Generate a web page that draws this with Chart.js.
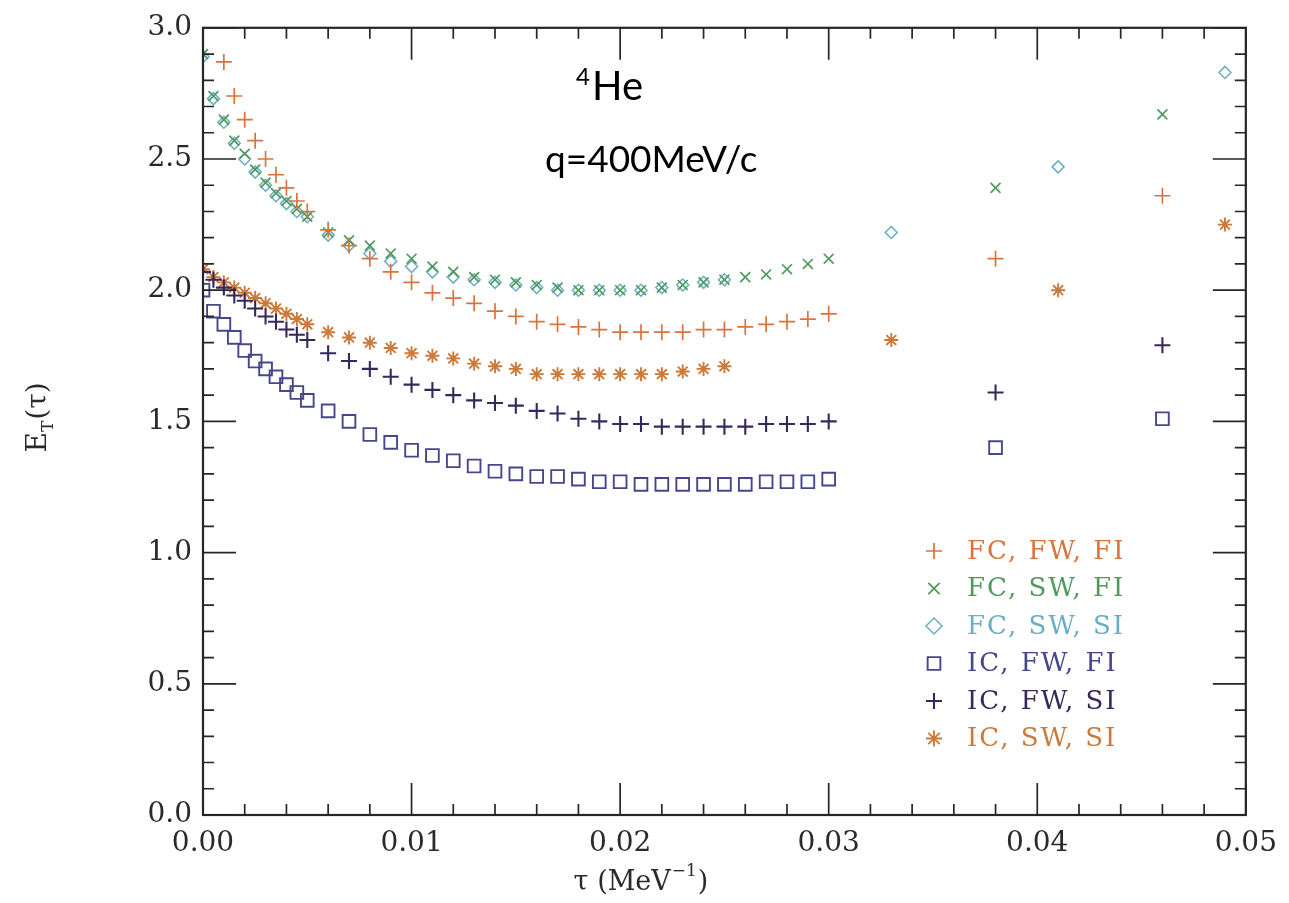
<!DOCTYPE html>
<html>
<head>
<meta charset="utf-8">
<script src="https://cdn.jsdelivr.net/npm/chart.js"></script>
<style>
  html, body { margin: 0; padding: 0; background: #fff; }
  #wrap { width: 1289px; height: 903px; }
</style>
</head>
<body>
<div id="wrap"><canvas id="myChart" width="1289" height="903"></canvas></div>
<script>
// tau grids (MeV^-1)
const tauFull = [0, 0.0005, 0.001, 0.0015, 0.002, 0.0025, 0.003, 0.0035, 0.004, 0.0045, 0.005,
  0.006, 0.007, 0.008, 0.009, 0.010, 0.011, 0.012, 0.013, 0.014, 0.015, 0.016, 0.017, 0.018,
  0.019, 0.020, 0.021, 0.022, 0.023, 0.024, 0.025, 0.026, 0.027, 0.028, 0.029, 0.030, 0.038, 0.046];
const tauFwFi = [0.001, 0.0015, 0.002, 0.0025, 0.003, 0.0035, 0.004, 0.0045, 0.005,
  0.006, 0.007, 0.008, 0.009, 0.010, 0.011, 0.012, 0.013, 0.014, 0.015, 0.016, 0.017, 0.018,
  0.019, 0.020, 0.021, 0.022, 0.023, 0.024, 0.025, 0.026, 0.027, 0.028, 0.029, 0.030, 0.038, 0.046];
const tauSwSi = [0, 0.0005, 0.001, 0.0015, 0.002, 0.0025, 0.003, 0.0035, 0.004, 0.0045, 0.005,
  0.006, 0.007, 0.008, 0.009, 0.010, 0.011, 0.012, 0.013, 0.014, 0.015, 0.016, 0.017, 0.018,
  0.019, 0.020, 0.021, 0.022, 0.023, 0.024, 0.025, 0.033, 0.041, 0.049];

// E_T(tau) per calculation
const fcFwFi = [2.87, 2.74, 2.65, 2.57, 2.50, 2.44, 2.39, 2.34, 2.30,
  2.23, 2.17, 2.12, 2.07, 2.03, 1.99, 1.97, 1.95, 1.92, 1.90, 1.88, 1.87, 1.86, 1.85, 1.84,
  1.84, 1.84, 1.84, 1.85, 1.85, 1.86, 1.87, 1.88, 1.89, 1.91, 2.12, 2.36];
const fcSwFi = [2.90, 2.74, 2.65, 2.57, 2.52, 2.46, 2.41, 2.37, 2.34, 2.31, 2.28,
  2.22, 2.19, 2.17, 2.14, 2.12, 2.09, 2.07, 2.05, 2.04, 2.03, 2.02, 2.01, 2.00, 2.00, 2.00,
  2.00, 2.01, 2.02, 2.03, 2.04, 2.05, 2.06, 2.08, 2.10, 2.12, 2.39, 2.67];
const fcSwSi = [2.89, 2.73, 2.64, 2.56, 2.50, 2.45, 2.40, 2.36, 2.33, 2.30, 2.28,
  2.21, 2.17, 2.14, 2.11, 2.09, 2.07, 2.05, 2.04, 2.03, 2.02, 2.01, 2.00, 2.00, 2.00, 2.00,
  2.00, 2.01, 2.02, 2.03, 2.04, 2.22, 2.47, 2.83];
const icFwFi = [2.00, 1.92, 1.87, 1.82, 1.77, 1.73, 1.70, 1.67, 1.64, 1.61, 1.58,
  1.54, 1.50, 1.45, 1.42, 1.39, 1.37, 1.35, 1.33, 1.31, 1.30, 1.29, 1.29, 1.28, 1.27, 1.27,
  1.26, 1.26, 1.26, 1.26, 1.26, 1.26, 1.27, 1.27, 1.27, 1.28, 1.40, 1.51];
const icFwSi = [2.07, 2.04, 2.01, 1.98, 1.96, 1.93, 1.90, 1.88, 1.85, 1.83, 1.81,
  1.76, 1.73, 1.70, 1.67, 1.64, 1.62, 1.60, 1.58, 1.57, 1.56, 1.54, 1.53, 1.51, 1.50, 1.49,
  1.49, 1.48, 1.48, 1.48, 1.48, 1.48, 1.49, 1.49, 1.49, 1.50, 1.61, 1.79];
const icSwSi = [2.08, 2.05, 2.03, 2.01, 1.99, 1.97, 1.95, 1.93, 1.91, 1.89, 1.87,
  1.84, 1.82, 1.80, 1.78, 1.76, 1.75, 1.74, 1.72, 1.71, 1.70, 1.68, 1.68, 1.68, 1.68, 1.68,
  1.68, 1.68, 1.69, 1.70, 1.71, 1.81, 2.00, 2.25];

const xTicks = [0, 0.01, 0.02, 0.03, 0.04, 0.05];
const yTicks = [0, 0.5, 1.0, 1.5, 2.0, 2.5, 3.0];

const serif = '"DejaVu Serif", "Liberation Serif", serif';

function pts(xs, ys) {
  return xs.map((x, i) => ({ x: x, y: ys[i] }));
}

const series = [
  { label: 'FC, FW, FI', x: tauFwFi, y: fcFwFi, color: '#d8743c', style: 'cross', r: 8, w: 1.7 },
  { label: 'FC, SW, FI', x: tauFull, y: fcSwFi, color: '#4f9a5c', style: 'crossRot', r: 7, w: 1.7 },
  { label: 'FC, SW, SI', x: tauSwSi, y: fcSwSi, color: '#6aaec6', style: 'rectRot', r: 6, w: 1.5 },
  { label: 'IC, FW, FI', x: tauFull, y: icFwFi, color: '#45478a', style: 'rect', r: 9, w: 1.9 },
  { label: 'IC, FW, SI', x: tauFull, y: icFwSi, color: '#37285c', style: 'cross', r: 8, w: 2.1 },
  { label: 'IC, SW, SI', x: tauSwSi, y: icSwSi, color: '#cc7a3a', style: 'star', r: 7, w: 1.9 }
];

// marker shapes used in the in-plot legend
function marker(ctx, style, x, y, r) {
  ctx.beginPath();
  if (style === 'cross') {
    ctx.moveTo(x - r, y); ctx.lineTo(x + r, y);
    ctx.moveTo(x, y - r); ctx.lineTo(x, y + r);
  } else if (style === 'crossRot') {
    const d = r * Math.SQRT1_2;
    ctx.moveTo(x - d, y - d); ctx.lineTo(x + d, y + d);
    ctx.moveTo(x + d, y - d); ctx.lineTo(x - d, y + d);
  } else if (style === 'rectRot') {
    ctx.moveTo(x, y - r); ctx.lineTo(x + r, y); ctx.lineTo(x, y + r); ctx.lineTo(x - r, y); ctx.closePath();
  } else if (style === 'rect') {
    const s = r * Math.SQRT1_2;
    ctx.rect(x - s, y - s, 2 * s, 2 * s);
  } else if (style === 'star') {
    const d = r * Math.SQRT1_2;
    ctx.moveTo(x - r, y); ctx.lineTo(x + r, y);
    ctx.moveTo(x, y - r); ctx.lineTo(x, y + r);
    ctx.moveTo(x - d, y - d); ctx.lineTo(x + d, y + d);
    ctx.moveTo(x + d, y - d); ctx.lineTo(x - d, y + d);
  }
  ctx.stroke();
}

// box frame with inward major/minor ticks on all four sides
const frameTicks = {
  id: 'frameTicks',
  afterDatasetsDraw(chart) {
    const { ctx, chartArea: a, scales } = chart;
    const xs = scales.x, ys = scales.y;
    ctx.save();
    ctx.strokeStyle = '#262626';
    ctx.lineWidth = 2.2;
    ctx.strokeRect(a.left, a.top, a.right - a.left, a.bottom - a.top);
    ctx.lineWidth = 1.7;
    ctx.beginPath();
    for (let i = 0; i <= 25; i++) {
      const px = xs.getPixelForValue(i * 0.002);
      const len = i % 5 === 0 ? 32 : 11;
      ctx.moveTo(px, a.bottom); ctx.lineTo(px, a.bottom - len);
      ctx.moveTo(px, a.top); ctx.lineTo(px, a.top + len);
    }
    for (let i = 0; i <= 30; i++) {
      const py = ys.getPixelForValue(i * 0.1);
      const len = i % 5 === 0 ? 33 : 11;
      ctx.moveTo(a.left, py); ctx.lineTo(a.left + len, py);
      ctx.moveTo(a.right, py); ctx.lineTo(a.right - len, py);
    }
    ctx.stroke();
    ctx.restore();
  }
};

// legend, axis titles and annotations
const decorations = {
  id: 'decorations',
  afterDraw(chart) {
    const { ctx } = chart;
    ctx.save();

    // legend block
    series.forEach((s, i) => {
      const y = 551 + i * 37.5;
      ctx.strokeStyle = s.color;
      ctx.lineWidth = s.w;
      marker(ctx, s.style, 934, y, s.style === 'rect' ? 9 : 8);
      ctx.fillStyle = s.color;
      ctx.font = '26px ' + serif;
      ctx.letterSpacing = '2px';
      ctx.textBaseline = 'middle';
      ctx.textAlign = 'left';
      ctx.fillText(s.label, 967, y + 1);
    });
    ctx.letterSpacing = '0px';

    // x title: tau (MeV^-1)
    ctx.fillStyle = '#2a2a2a';
    ctx.textBaseline = 'alphabetic';
    ctx.font = '27px ' + serif;
    const xa = 'τ (MeV', xb = '−1', xc = ')';
    const wa = ctx.measureText(xa).width;
    ctx.font = '17px ' + serif;
    const wb = ctx.measureText(xb).width;
    ctx.font = '27px ' + serif;
    const wc = ctx.measureText(xc).width;
    let x0 = 640 - (wa + wb + wc) / 2;
    ctx.fillText(xa, x0, 890);
    ctx.font = '17px ' + serif;
    ctx.fillText(xb, x0 + wa + 1, 876);
    ctx.font = '27px ' + serif;
    ctx.fillText(xc, x0 + wa + wb + 2, 890);

    // y title: E_T(tau)
    ctx.save();
    ctx.translate(46, 418);
    ctx.rotate(-Math.PI / 2);
    ctx.font = '28px ' + serif;
    const ya = 'E', yb = 'T', yc = '(τ)';
    const wya = ctx.measureText(ya).width;
    const wyc = ctx.measureText(yc).width;
    ctx.font = '17px ' + serif;
    const wyb = ctx.measureText(yb).width;
    let y0 = -(wya + wyb + wyc) / 2;
    ctx.font = '28px ' + serif;
    ctx.fillText(ya, y0, 0);
    ctx.font = '17px ' + serif;
    ctx.fillText(yb, y0 + wya, 7);
    ctx.font = '28px ' + serif;
    ctx.fillText(yc, y0 + wya + wyb + 1, 0);
    ctx.restore();

    // nucleus and momentum transfer
    ctx.fillStyle = '#000';
    ctx.font = '24px Lato, "Open Sans", sans-serif';
    ctx.fillText('4', 576, 85);
    ctx.font = '40px Lato, "Open Sans", sans-serif';
    ctx.fillText('He', 592, 100);
    ctx.font = '37px Lato, "Open Sans", sans-serif';
    ctx.fillText('q=400MeV/c', 545, 172);

    ctx.restore();
  }
};

const ctx = document.getElementById('myChart').getContext('2d');
new Chart(ctx, {
  type: 'scatter',
  data: {
    datasets: series.map(s => ({
      label: s.label,
      data: pts(s.x, s.y),
      pointStyle: s.style,
      pointRadius: s.r,
      pointBorderWidth: s.w,
      borderColor: s.color,
      backgroundColor: 'rgba(0,0,0,0)',
      pointBackgroundColor: 'rgba(0,0,0,0)',
      showLine: false
    }))
  },
  options: {
    responsive: false,
    animation: false,
    devicePixelRatio: 1,
    layout: { autoPadding: false, padding: { top: 19, right: 33, left: 0, bottom: 0 } },
    plugins: { legend: { display: false }, tooltip: { enabled: false } },
    scales: {
      x: {
        type: 'linear', min: 0, max: 0.05,
        afterFit(scale) { scale.height = 88; },
        afterBuildTicks(scale) { scale.ticks = xTicks.map(v => ({ value: v })); },
        grid: { display: false, drawTicks: false },
        border: { display: false },
        ticks: {
          padding: 12, color: '#2a2a2a', font: { family: serif, size: 28 },
          callback: v => v.toFixed(2)
        }
      },
      y: {
        type: 'linear', min: 0, max: 3,
        afterFit(scale) { scale.width = 203; },
        afterBuildTicks(scale) { scale.ticks = yTicks.map(v => ({ value: v })); },
        grid: { display: false, drawTicks: false },
        border: { display: false },
        ticks: {
          padding: 11, color: '#2a2a2a', font: { family: serif, size: 28 },
          callback: v => v.toFixed(1)
        }
      }
    }
  },
  plugins: [frameTicks, decorations]
});
</script>
</body>
</html>
